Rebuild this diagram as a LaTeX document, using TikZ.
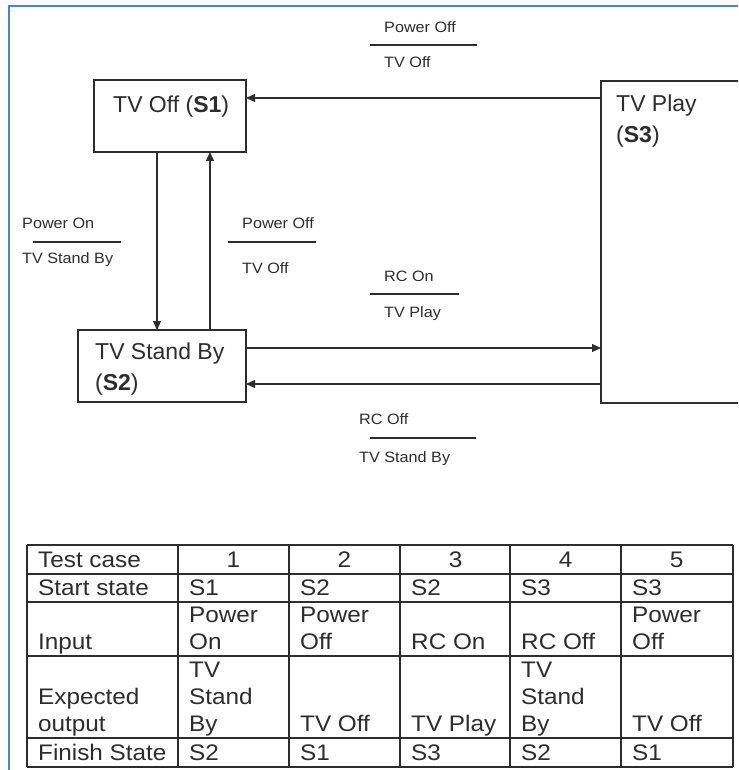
\documentclass[tikz,border=0pt]{standalone}
\usepackage{fontspec}
\setmainfont{Liberation Sans}
\newfontfamily\widesans[FakeStretch=1.08]{Liberation Sans}
\usetikzlibrary{arrows.meta}

\definecolor{frameblue}{RGB}{74,128,222}
\definecolor{ink}{RGB}{45,45,45}

\tikzset{
  state/.style={draw=ink, line width=1.3pt, rectangle, inner sep=0pt, outer sep=0pt, anchor=north west},
  statetext/.style={font=\fontsize{23}{30.5}\selectfont, align=left, inner sep=0pt, anchor=north west, text=ink},
  trans/.style={draw=ink, line width=1.3pt, -{Triangle[length=9pt,width=8pt]}},
  event/.style={font=\widesans\fontsize{15}{18}\selectfont, inner sep=0pt, anchor=base west, text=ink},
  bar/.style={draw=ink, line width=1.3pt},
  grid/.style={draw=ink, line width=1.6pt},
  cell/.style={font=\widesans\fontsize{22.5}{27}\selectfont, align=left, inner xsep=11pt, inner ysep=0pt,
               anchor=south west, text=ink, execute at end node=\rule[-6pt]{0pt}{1pt}},
  head/.style={cell, anchor=south, inner xsep=0pt},
}

\begin{document}
\begin{tikzpicture}[x=1pt,y=-1pt]
\clip (0,0) rectangle (738,770);

% frame
\draw[frameblue, line width=2pt] (9,772) -- (9,6) -- (740,6);

% states
\node[state, minimum width=152pt, minimum height=72pt] (s1) at (94,80) {};
\node[state, minimum width=168pt, minimum height=72pt] (s2) at (78,330) {};
\node[state, minimum width=170pt, minimum height=322pt] (s3) at (601,81) {};
\node[statetext] (s1text) at (113,96) {TV Off (\textbf{S1})};
\node[statetext] (s2text) at (95,343) {TV Stand By\\(\textbf{S2})};
\node[statetext] (s3text) at (616,95) {TV Play\\(\textbf{S3})};

% transitions
\draw[trans] ([yshift=-17pt]s3.north west) -- ([yshift=-18pt]s1.north east);
\draw[trans] ([xshift=63pt]s1.south west) -- ([xshift=79pt]s2.north west);
\draw[trans] ([xshift=132pt]s2.north west) -- ([xshift=116pt]s1.south west);
\draw[trans] ([yshift=-18pt]s2.north east) -- ([yshift=55pt]s3.south west);
\draw[trans] ([yshift=19pt]s3.south west) -- ([yshift=18pt]s2.south east);

% events / actions
\node[event] (offin) at (384,33) {Power Off};
\draw[bar] (370,45) -- (477,45);
\node[event] (offout) at (384,68) {TV Off};

\node[event] (onin) at (22,228) {Power On};
\draw[bar] (33,242) -- (121,242);
\node[event] (onout) at (22,263) {TV Stand By};

\node[event] (off2in) at (242,228) {Power Off};
\draw[bar] (228,242) -- (316,242);
\node[event] (off2out) at (242,273) {TV Off};

\node[event] (rconin) at (384,281) {RC On};
\draw[bar] (370,294) -- (459,294);
\node[event] (rconout) at (384,317) {TV Play};

\node[event] (rcoffin) at (359,424) {RC Off};
\draw[bar] (370,438) -- (476,438);
\node[event] (rcoffout) at (359,462) {TV Stand By};

% test table
\foreach \x in {27,178,289,400,510,621,733}
  \draw[grid] (\x,545) -- (\x,767);
\foreach \y in {545,574,602,656,738,767}
  \draw[grid] (27,\y) -- (733,\y);

\node[cell] (hcase) at (27,574) {Test case};
\node[cell] (hstart) at (27,602) {Start state};
\node[cell] (hinput) at (27,656) {Input};
\node[cell] (hout) at (27,738) {Expected\\output};
\node[cell] (hfinish) at (27,767) {Finish State};

\foreach \x/\s/\inp/\outp/\fin [count=\i] in {
    178/S1/{Power\\On}/{TV\\Stand\\By}/S2,
    289/S2/{Power\\Off}/{TV Off}/S1,
    400/S2/{RC On}/{TV Play}/S3,
    510/S3/{RC Off}/{TV\\Stand\\By}/S2,
    621/S3/{Power\\Off}/{TV Off}/S1}{
  \node[head] (case\i) at (\x+55.5,574) {\i};
  \node[cell] (start\i) at (\x,602) {\s};
  \node[cell] (input\i) at (\x,656) {\inp};
  \node[cell] (output\i) at (\x,738) {\outp};
  \node[cell] (finish\i) at (\x,767) {\fin};
}

\end{tikzpicture}
\end{document}
